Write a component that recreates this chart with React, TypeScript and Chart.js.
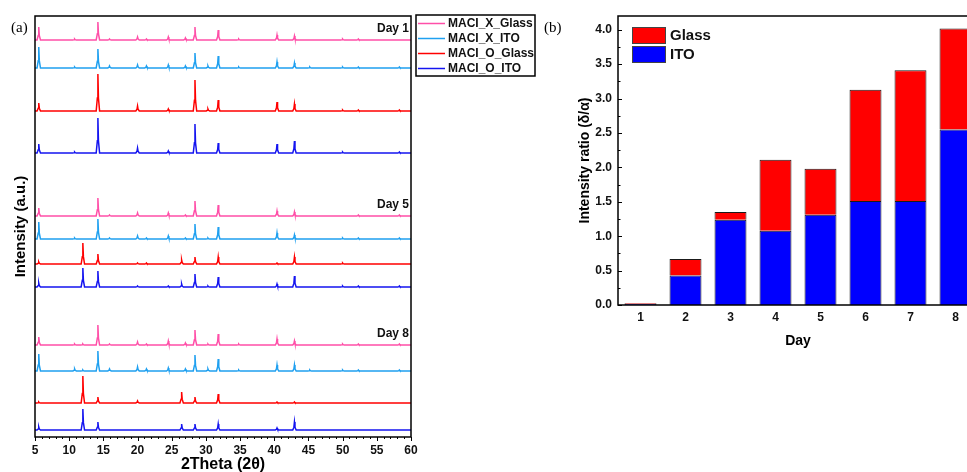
import React, { useEffect, useRef } from "react";
import { Chart, registerables } from "chart.js";

Chart.register(...registerables);

const SANS = "'Liberation Sans', Arial, sans-serif";
const SERIF = "'Liberation Serif', 'Times New Roman', serif";

// ---------------- Panel (a): XRD patterns ----------------
const seriesNames = ["MACI_X_Glass", "MACI_X_ITO", "MACI_O_Glass", "MACI_O_ITO"];
const seriesColors = ["#FF4FA8", "#1FA0F0", "#FF0000", "#1414F0"];
const dayLabels = ["Day 1", "Day 5", "Day 8"];
const twoThetaTicks = [5, 10, 15, 20, 25, 30, 35, 40, 45, 50, 55, 60];

// peak positions (2θ)
const peakPositions = [5.55, 10.8, 12.0, 14.2, 15.9, 20.0, 21.3, 24.5, 26.45, 27.0, 28.4, 30.3, 31.8, 34.8, 40.4, 42.95, 45.2, 50.0, 52.3, 58.3];

// vertical offsets of each pattern (a.u.), per day: X_Glass, X_ITO, O_Glass, O_ITO
const offsetsDay1 = [397, 369, 326, 284];
const offsetsDay5 = [221, 198, 173, 150];
const offsetsDay8 = [92, 66, 34, 7];

// peak intensities (a.u.) aligned with peakPositions
const day1XGlass = [13, 1, 0, 18, 1, 3, 1, 3, 0, 2, 13, 0, 10, 1, 5, 4, 0, 1, 1, 0];
const day1XITO = [21, 1, 0, 19, 2, 3, 2, 3, 0, 2, 15, 2, 12, 1, 6, 5, 1, 1, 1, 1];
const day1OGlass = [8, 0, 0, 37, 0, 5, 0, 2, 0, 0, 31, 2, 11, 0, 9, 7, 0, 1, 1, 1];
const day1OITO = [9, 1, 0, 35, 0, 5, 0, 2, 0, 0, 29, 0, 10, 0, 9, 12, 0, 1, 0, 1];
const day5XGlass = [8, 0, 0, 18, 1, 3, 0, 3, 0, 1, 15, 0, 11, 0, 5, 4, 0, 0, 1, 1];
const day5XITO = [17, 1, 0, 20, 1, 3, 1, 3, 0, 1, 15, 1, 12, 0, 6, 4, 0, 1, 1, 1];
const day5OGlass = [2, 0, 21, 10, 0, 1, 1, 0, 4, 0, 7, 0, 7, 0, 1, 7, 0, 1, 0, 0];
const day5OITO = [4, 0, 19, 16, 0, 1, 0, 1, 3, 0, 13, 1, 10, 0, 3, 11, 0, 1, 1, 1];
const day8XGlass = [8, 1, 1, 20, 1, 3, 1, 4, 0, 2, 15, 1, 11, 1, 6, 4, 0, 1, 1, 1];
const day8XITO = [17, 2, 1, 20, 2, 4, 2, 3, 0, 2, 16, 2, 12, 1, 6, 6, 1, 1, 1, 1];
const day8OGlass = [1, 0, 27, 6, 0, 2, 0, 0, 11, 0, 6, 0, 9, 0, 1, 1, 0, 0, 0, 0];
const day8OITO = [3, 0, 21, 8, 0, 0, 0, 0, 6, 0, 6, 0, 6, 0, 2, 8, 0, 0, 0, 0];

const dayOffsets = [offsetsDay1, offsetsDay5, offsetsDay8];
const dayHeights = [
  [day1XGlass, day1XITO, day1OGlass, day1OITO],
  [day5XGlass, day5XITO, day5OGlass, day5OITO],
  [day8XGlass, day8XITO, day8OGlass, day8OITO],
];

// ---------------- Panel (b): stacked ratio bars ----------------
const days = ["1", "2", "3", "4", "5", "6", "7", "8"];
const itoRatio = [0.015, 0.43, 1.24, 1.08, 1.31, 1.51, 1.51, 2.55];
const glassRatio = [0.01, 0.24, 0.11, 1.03, 0.67, 1.62, 1.9, 1.47];
const ratioTicks = [0, 0.5, 1, 1.5, 2, 2.5, 3, 3.5, 4];

const PEAK_HALF = 0.25;
const SHOULDER = 0.08;

function tracePoints(base: number, heights: number[]) {
  const pts: { x: number; y: number }[] = [{ x: twoThetaTicks[0], y: base }];
  peakPositions.forEach((p, i) => {
    const h = heights[i];
    if (!h) return;
    pts.push(
      { x: p - PEAK_HALF, y: base },
      { x: p - SHOULDER, y: base + h * 0.35 },
      { x: p, y: base + h },
      { x: p + SHOULDER, y: base + h * 0.35 },
      { x: p + PEAK_HALF, y: base }
    );
  });
  pts.push({ x: twoThetaTicks[twoThetaTicks.length - 1], y: base });
  return pts;
}

const panelAPlugin = {
  id: "panelA",
  afterDraw(chart: any) {
    const { ctx, chartArea: ca, scales } = chart;
    const xs = scales.x;
    const ys = scales.y;
    ctx.save();
    ctx.strokeStyle = "#000";
    ctx.lineWidth = 1;
    for (let v = 5; v <= 60; v += 1) {
      const px = Math.round(xs.getPixelForValue(v)) + 0.5;
      const len = v % 5 === 0 ? 4 : 2;
      ctx.beginPath();
      ctx.moveTo(px, ca.bottom);
      ctx.lineTo(px, ca.bottom + len);
      ctx.stroke();
    }
    ctx.lineWidth = 1.5;
    ctx.strokeRect(ca.left, ca.top, ca.right - ca.left, ca.bottom - ca.top);

    // legend box
    const lx = ca.right + 5;
    const ly = ca.top - 1;
    ctx.lineWidth = 1.5;
    ctx.strokeRect(lx, ly, 119, 61);
    ctx.font = `bold 12px ${SANS}`;
    ctx.textBaseline = "middle";
    ctx.textAlign = "left";
    seriesNames.forEach((name, i) => {
      const y = ca.top + 7.5 + i * 15;
      ctx.strokeStyle = seriesColors[i];
      ctx.lineWidth = 1.5;
      ctx.beginPath();
      ctx.moveTo(lx + 2, y);
      ctx.lineTo(lx + 29, y);
      ctx.stroke();
      ctx.fillStyle = "#111";
      ctx.fillText(name, lx + 32, y);
    });

    // day labels
    ctx.textAlign = "right";
    ctx.fillStyle = "#111";
    dayLabels.forEach((d, i) => {
      const y = ys.getPixelForValue(dayOffsets[i][0]) - 11;
      ctx.fillText(d, ca.right - 2, y);
    });

    // panel tag
    ctx.font = `15px ${SERIF}`;
    ctx.textAlign = "left";
    ctx.fillStyle = "#000";
    ctx.fillText("(a)", 11, 28);
    ctx.restore();
  },
};

const panelBPlugin = {
  id: "panelB",
  afterDraw(chart: any) {
    const { ctx, chartArea: ca, scales } = chart;
    const ys = scales.y;
    ctx.save();
    ctx.strokeStyle = "#000";
    ctx.lineWidth = 1;
    for (let i = 0; i <= 16; i++) {
      const v = i * 0.25;
      const py = Math.round(ys.getPixelForValue(v)) + 0.5;
      const len = i % 2 === 0 ? 4 : 2.5;
      ctx.beginPath();
      ctx.moveTo(ca.left, py);
      ctx.lineTo(ca.left + len, py);
      ctx.stroke();
    }
    ctx.lineWidth = 1.5;
    ctx.strokeRect(ca.left, ca.top, ca.right - ca.left, ca.bottom - ca.top);

    // legend: Glass first, then ITO
    const ds = chart.data.datasets;
    const order = [1, 0];
    ctx.font = `bold 15px ${SANS}`;
    ctx.textBaseline = "middle";
    ctx.textAlign = "left";
    order.forEach((di, row) => {
      const bx = ca.left + 14;
      const by = ca.top + 11 + row * 19;
      ctx.fillStyle = ds[di].backgroundColor;
      ctx.fillRect(bx, by, 33, 16);
      ctx.strokeStyle = "#444";
      ctx.lineWidth = 1;
      ctx.strokeRect(bx + 0.5, by + 0.5, 33, 16);
      ctx.fillStyle = "#111";
      ctx.fillText(ds[di].label, bx + 38, by + 8.5);
    });

    ctx.font = `15px ${SERIF}`;
    ctx.fillStyle = "#000";
    ctx.fillText("(b)", 4, 28);
    ctx.restore();
  },
};

export default function App() {
  const refA = useRef<HTMLCanvasElement>(null);
  const refB = useRef<HTMLCanvasElement>(null);

  useEffect(() => {
    const datasets: any[] = [];
    dayHeights.forEach((group, d) => {
      group.forEach((heights, s) => {
        datasets.push({
          label: d === 0 ? seriesNames[s] : seriesNames[s] + " " + dayLabels[d],
          data: tracePoints(dayOffsets[d][s], heights),
          borderColor: seriesColors[s],
          borderWidth: 1.5,
          pointRadius: 0,
          fill: false,
          tension: 0,
        });
      });
    });

    const chartA = new Chart(refA.current!, {
      type: "line",
      data: { datasets },
      options: {
        responsive: false,
        animation: false,
        events: [],
        layout: { padding: { top: 16, right: 129, left: 0, bottom: 0 } },
        plugins: { legend: { display: false }, tooltip: { enabled: false } },
        scales: {
          x: {
            type: "linear",
            min: 5,
            max: 60,
            border: { display: false },
            grid: { display: false, drawTicks: false },
            afterBuildTicks: (s: any) => {
              s.ticks = twoThetaTicks.map((v) => ({ value: v }));
            },
            afterFit: (s: any) => {
              s.height = 35;
            },
            ticks: {
              padding: 6,
              color: "#111",
              font: { family: SANS, size: 12, weight: "bold" },
              maxRotation: 0,
              callback: (v: any) => String(v),
            },
            title: {
              display: true,
              text: "2Theta (2θ)",
              color: "#000",
              font: { family: SANS, size: 16, weight: "bold", lineHeight: 1 },
              padding: { top: 0, bottom: -1 },
            },
          },
          y: {
            type: "linear",
            min: 0,
            max: 421,
            border: { display: false },
            grid: { display: false, drawTicks: false },
            ticks: { display: false },
            afterFit: (s: any) => {
              s.width = 35;
            },
            title: {
              display: true,
              text: "Intensity (a.u.)",
              color: "#000",
              font: { family: SANS, size: 15, weight: "bold", lineHeight: 1 },
              padding: { top: 13, bottom: 0 },
            },
          },
        },
      },
      plugins: [panelAPlugin],
    } as any);

    const chartB = new Chart(refB.current!, {
      type: "bar",
      data: {
        labels: days,
        datasets: [
          {
            label: "ITO",
            data: itoRatio,
            backgroundColor: "#0000FF",
            borderColor: "#1a1a1a",
            borderWidth: 1,
            stack: "s",
          },
          {
            label: "Glass",
            data: glassRatio,
            backgroundColor: "#FF0000",
            borderColor: "#1a1a1a",
            borderWidth: 1,
            stack: "s",
          },
        ],
      },
      options: {
        responsive: false,
        animation: false,
        events: [],
        layout: { padding: { top: 16, right: 22, left: 0, bottom: 10 } },
        datasets: { bar: { barPercentage: 0.71, categoryPercentage: 1 } },
        plugins: { legend: { display: false }, tooltip: { enabled: false } },
        scales: {
          x: {
            stacked: true,
            border: { display: false },
            grid: { display: false, drawTicks: false },
            afterFit: (s: any) => {
              s.height = 45;
            },
            ticks: {
              padding: 5,
              color: "#111",
              font: { family: SANS, size: 12, weight: "bold" },
              maxRotation: 0,
            },
            title: {
              display: true,
              text: "Day",
              color: "#000",
              font: { family: SANS, size: 14, weight: "bold", lineHeight: 1 },
              padding: { top: 0, bottom: 2 },
            },
          },
          y: {
            stacked: true,
            min: 0,
            max: 4.2,
            border: { display: false },
            grid: { display: false, drawTicks: false },
            afterBuildTicks: (s: any) => {
              s.ticks = ratioTicks.map((v) => ({ value: v }));
            },
            afterFit: (s: any) => {
              s.width = 78;
            },
            ticks: {
              padding: 6,
              color: "#111",
              font: { family: SANS, size: 12, weight: "bold" },
              callback: (v: any) => Number(v).toFixed(1),
            },
            title: {
              display: true,
              text: "Intensity ratio (δ/α)",
              color: "#000",
              font: { family: SANS, size: 14, weight: "bold", lineHeight: 1 },
              padding: { top: 38, bottom: 0 },
            },
          },
        },
      },
      plugins: [panelBPlugin],
    } as any);

    return () => {
      chartA.destroy();
      chartB.destroy();
    };
  }, []);

  return (
    <div
      style={{
        position: "fixed",
        left: 0,
        top: 0,
        width: 967,
        height: 472,
        overflow: "hidden",
        background: "#fff",
      }}
    >
      <canvas
        ref={refA}
        width={540}
        height={472}
        style={{ position: "absolute", left: 0, top: 0, width: 540, height: 472, display: "block" }}
      />
      <canvas
        ref={refB}
        width={460}
        height={360}
        style={{ position: "absolute", left: 540, top: 0, width: 460, height: 360, display: "block" }}
      />
    </div>
  );
}
